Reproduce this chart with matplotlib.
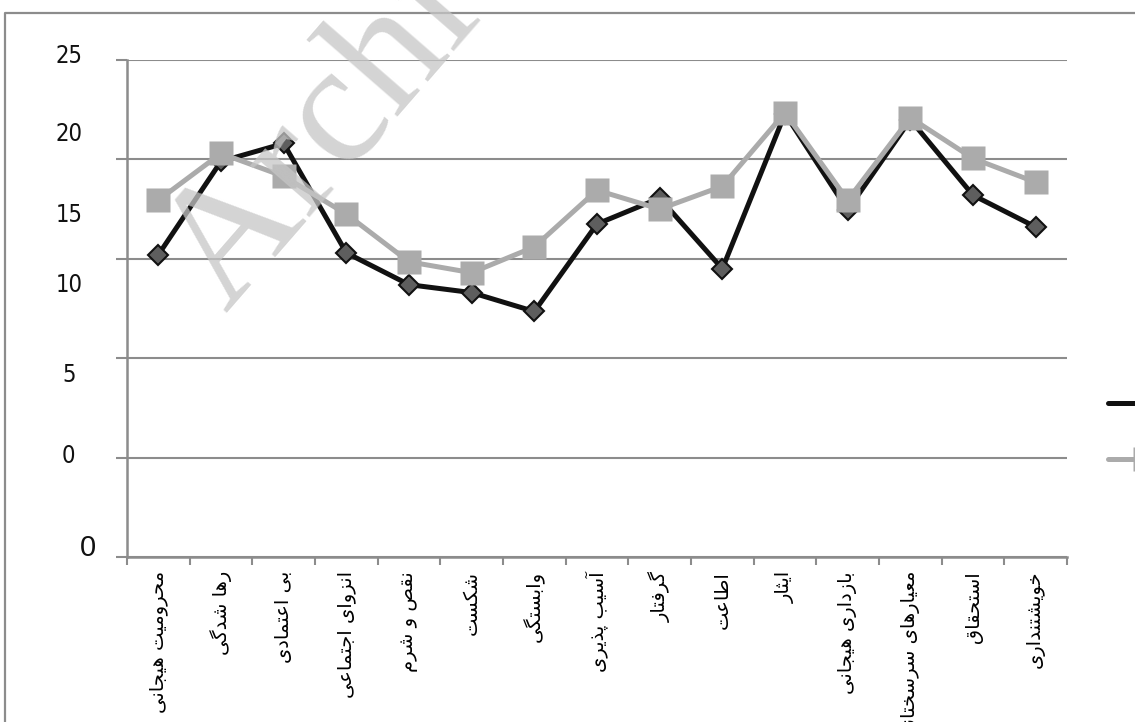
import matplotlib
matplotlib.use("Agg")
import matplotlib.pyplot as plt
from matplotlib.lines import Line2D
from matplotlib import font_manager as fm

# ---- data ----
categories = ["محرومیت هیجانی", "رها شدگی", "بی اعتمادی", "انزوای اجتماعی",
              "نقص و شرم", "شکست", "وابستگی", "آسیب پذیری", "گرفتار", "اطاعت",
              "ایثار", "بازداری هیجانی", "معیارهای سرسختانه", "استحقاق", "خویشتنداری"]
series_black = [15.2, 19.9, 20.8, 15.3, 13.7, 13.3, 12.35, 16.75, 18.05, 14.5,
                22.3, 17.45, 22.0, 18.2, 16.6]
series_gray = [17.95, 20.3, 19.15, 17.25, 14.85, 14.3, 15.6, 18.45, 17.5, 18.65,
               22.35, 17.95, 22.1, 20.05, 18.85]
ytick_labels = ["25", "20", "15", "10", "5", "0", "0"]
ytick_at = [25.2, 21.3, 17.2, 13.7, 9.15, 5.1, 0.45]

# ---- tiny Persian shaper: (isolated, final, initial, medial) ----
FORMS = {
    "ا": ("\uFE8D", "\uFE8E", None, None), "آ": ("\uFE81", "\uFE82", None, None),
    "ب": ("\uFE8F", "\uFE90", "\uFE91", "\uFE92"), "پ": ("\uFB56", "\uFB57", "\uFB58", "\uFB59"),
    "ت": ("\uFE95", "\uFE96", "\uFE97", "\uFE98"), "ث": ("\uFE99", "\uFE9A", "\uFE9B", "\uFE9C"),
    "ج": ("\uFE9D", "\uFE9E", "\uFE9F", "\uFEA0"), "ح": ("\uFEA1", "\uFEA2", "\uFEA3", "\uFEA4"),
    "خ": ("\uFEA5", "\uFEA6", "\uFEA7", "\uFEA8"), "د": ("\uFEA9", "\uFEAA", None, None),
    "ذ": ("\uFEAB", "\uFEAC", None, None), "ر": ("\uFEAD", "\uFEAE", None, None),
    "ز": ("\uFEAF", "\uFEB0", None, None), "س": ("\uFEB1", "\uFEB2", "\uFEB3", "\uFEB4"),
    "ش": ("\uFEB5", "\uFEB6", "\uFEB7", "\uFEB8"), "ص": ("\uFEB9", "\uFEBA", "\uFEBB", "\uFEBC"),
    "ط": ("\uFEC1", "\uFEC2", "\uFEC3", "\uFEC4"), "ع": ("\uFEC9", "\uFECA", "\uFECB", "\uFECC"),
    "ف": ("\uFED1", "\uFED2", "\uFED3", "\uFED4"), "ق": ("\uFED5", "\uFED6", "\uFED7", "\uFED8"),
    "ک": ("\uFB8E", "\uFB8F", "\uFB90", "\uFB91"), "گ": ("\uFB92", "\uFB93", "\uFB94", "\uFB95"),
    "ل": ("\uFEDD", "\uFEDE", "\uFEDF", "\uFEE0"), "م": ("\uFEE1", "\uFEE2", "\uFEE3", "\uFEE4"),
    "ن": ("\uFEE5", "\uFEE6", "\uFEE7", "\uFEE8"), "ه": ("\uFEE9", "\uFEEA", "\uFEEB", "\uFEEC"),
    "و": ("\uFEED", "\uFEEE", None, None), "ی": ("\uFBFC", "\uFBFD", "\uFBFE", "\uFBFF"),
}


def fa(text):
    out = []
    for i, ch in enumerate(text):
        if ch not in FORMS:
            out.append(ch)
            continue
        prev = text[i - 1] if i > 0 else ""
        nxt = text[i + 1] if i + 1 < len(text) else ""
        join_prev = prev in FORMS and FORMS[prev][2] is not None
        join_next = FORMS[ch][2] is not None and nxt in FORMS
        iso, fin, ini, med = FORMS[ch]
        if join_prev and join_next:
            out.append(med)
        elif join_prev:
            out.append(fin)
        elif join_next:
            out.append(ini)
        else:
            out.append(iso)
    return "".join(out)[::-1]


# condensed face for the y numbers if one is installed
narrow = None
for f in fm.fontManager.ttflist:
    if f.name in ("Liberation Sans Narrow", "DejaVu Sans") and \
            ("Narrow" in f.name or "ondensed" in str(f.stretch) or "Condensed" in f.fname):
        if "Bold" not in f.fname and "Oblique" not in f.fname and "Italic" not in f.fname:
            narrow = f.fname
            if "Narrow" in f.name:
                break
num_font = fm.FontProperties(fname=narrow, size=17) if narrow else \
    fm.FontProperties(family="DejaVu Sans", size=16)

W, H = 1135, 722
fig = plt.figure(figsize=(W / 100, H / 100), dpi=100)
ax = fig.add_axes([127 / W, 1 - 557 / H, 940 / W, 497 / H])

GRID = "#8c8c8c"
x = list(range(len(categories)))
l1, = ax.plot(x, series_black, color="#111111", lw=3.6, marker="D", ms=10,
              mfc="#5e5e5e", mec="#111111", mew=1.5, zorder=3, solid_capstyle="round")
l2, = ax.plot(x, series_gray, color="#ababab", lw=3.6, marker="s", ms=17,
              mfc="#ababab", mec="none", zorder=4, solid_capstyle="round")

ax.set_xlim(-0.5, len(categories) - 0.5)
ax.set_ylim(0, 25)
ax.set_yticks([0, 5, 10, 15, 20, 25])
ax.set_yticklabels([])
ax.yaxis.grid(True, color=GRID, lw=1.5)
ax.set_axisbelow(True)
ax.tick_params(axis="y", length=8, width=1.5, color=GRID)

ax.set_xticks(x)
ax.set_xticklabels([fa(c) for c in categories], rotation=90, fontsize=14,
                   family="DejaVu Sans", va="top", ha="center")
ax.set_xticks([i - 0.5 for i in range(len(categories) + 1)], minor=True)
ax.tick_params(axis="x", which="major", length=0, pad=10)
ax.tick_params(axis="x", which="minor", length=6, width=1.5, color=GRID)

for s in ("top", "right"):
    ax.spines[s].set_visible(False)
for s in ("left", "bottom"):
    ax.spines[s].set_color(GRID)
    ax.spines[s].set_linewidth(1.8)

# y labels as drawn in the reference (offset from the grid)
ytr = ax.get_yaxis_transform()
for lab, v in zip(ytick_labels[:-1], ytick_at[:-1]):
    ax.text(-0.062, v, lab, transform=ytr, ha="center", va="center",
            fontproperties=num_font, color="#111111")
ax.text(-0.0415, ytick_at[-1], ytick_labels[-1], transform=ytr, ha="center",
        va="center", fontsize=21, family="Liberation Sans", color="#111111")

# legend, its labels fall outside the canvas in the reference
ax.legend([l1, l2], ["", ""], loc="center left", bbox_to_anchor=(1108 / W, 1 - 432 / H),
          bbox_transform=fig.transFigure, frameon=False, handlelength=4.4,
          numpoints=1, borderpad=0, borderaxespad=0, labelspacing=2.3,
          prop={"family": "DejaVu Sans", "size": 12})

# outer frame
fig.add_artist(Line2D([5 / W, 5 / W, 1.01], [-0.01, 1 - 13 / H, 1 - 13 / H],
                      transform=fig.transFigure, color=GRID, lw=1.6))

# watermark
fig.text(226 / W, 1 - 314 / H, "Archive of SID", rotation=49, rotation_mode="anchor",
         ha="left", va="baseline", fontsize=124, family="Liberation Serif",
         color="#c6c6c6", alpha=0.75, zorder=10)

fig.savefig("out.png", dpi=100)
